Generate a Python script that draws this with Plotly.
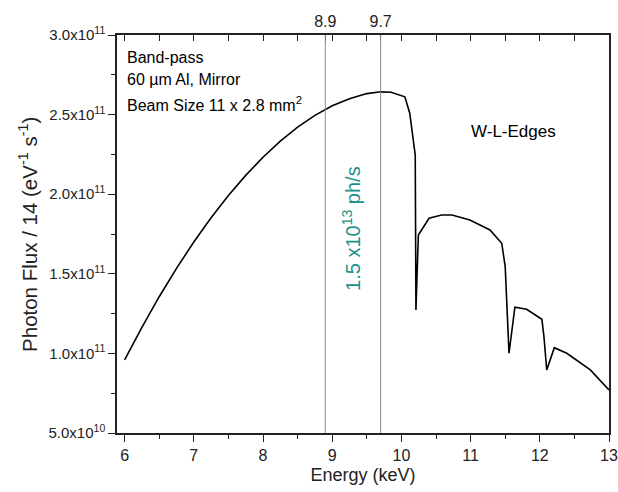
import plotly.graph_objects as go

energy_kev = [6.0, 6.25, 6.5, 6.75, 7.0, 7.25, 7.5, 7.75, 8.0, 8.25, 8.5, 8.75, 9.0, 9.25, 9.5, 9.7,
              9.85, 10.05, 10.12, 10.2, 10.21, 10.245, 10.4, 10.58, 10.73, 10.99, 11.28, 11.45,
              11.5, 11.555, 11.64, 11.81, 12.03, 12.06, 12.10, 12.21, 12.39, 12.73, 13.0]
flux_e11 = [0.96, 1.164, 1.356, 1.534, 1.70, 1.852, 1.992, 2.118, 2.232, 2.333, 2.421, 2.495, 2.555, 2.60, 2.632, 2.643,
            2.64, 2.612, 2.51, 2.246, 1.273, 1.744, 1.849, 1.869, 1.869, 1.838, 1.775, 1.692,
            1.545, 1.001, 1.29, 1.277, 1.214, 1.105, 0.896, 1.036, 1.001, 0.896, 0.77]
flux = [v * 1e11 for v in flux_e11]

band_edges = [8.9, 9.7]
band_labels = ["8.9", "9.7"]

y_tickvals = [0.5e11, 1.0e11, 1.5e11, 2.0e11, 2.5e11, 3.0e11]
y_ticktext = ["5.0x10<sup>10</sup>", "1.0x10<sup>11</sup>", "1.5x10<sup>11</sup>",
              "2.0x10<sup>11</sup>", "2.5x10<sup>11</sup>", "3.0x10<sup>11</sup>"]
x_tickvals = [6, 7, 8, 9, 10, 11, 12, 13]

top_tickvals = [6 + 0.5 * i for i in range(15)] + band_edges
top_ticktext = [""] * 15 + band_labels

FONT = "Liberation Sans, Arial, sans-serif"
AX = "#222222"

fig = go.Figure()
fig.add_trace(go.Scatter(x=energy_kev, y=flux, mode="lines",
                         line=dict(color="black", width=1.6), showlegend=False,
                         hoverinfo="skip"))
# invisible trace to anchor top axis
fig.add_trace(go.Scatter(x=[energy_kev[0]], y=[flux[0]], xaxis="x2", mode="markers",
                         marker=dict(opacity=0), showlegend=False, hoverinfo="skip"))

for e in band_edges:
    fig.add_shape(type="line", xref="x", yref="paper", x0=e, x1=e, y0=0, y1=1,
                  line=dict(color="#8a8a8a", width=1))

xr = [5.89, 13.0]
fig.update_layout(
    width=618, height=492,
    margin=dict(l=117, r=9, t=35, b=59),
    paper_bgcolor="white", plot_bgcolor="white",
    font=dict(family=FONT, size=15, color=AX),
    xaxis=dict(range=xr, tickvals=x_tickvals, ticks="outside", ticklen=7, tickwidth=1.2,
               tickcolor=AX, showline=True, linecolor=AX, linewidth=1.5, mirror=False,
               showgrid=False, zeroline=False, automargin=False, ticklabeloverflow="allow",
               minor=dict(dtick=0.5, tick0=6, ticks="outside", ticklen=4, tickcolor=AX),
               title=dict(text="Energy (keV)", font=dict(size=18), standoff=5),
               tickfont=dict(size=16)),
    xaxis2=dict(range=xr, overlaying="x", side="top", tickmode="array", automargin=False,
                tickvals=top_tickvals, ticktext=top_ticktext, ticks="inside", ticklen=6,
                tickcolor=AX, showline=True, linecolor=AX, linewidth=1.5,
                showgrid=False, zeroline=False, tickfont=dict(size=16)),
    yaxis=dict(range=[0.5e11, 3.0e11], tickmode="array", tickvals=y_tickvals, ticktext=y_ticktext,
               ticks="outside", ticklen=7, tickwidth=1.2, tickcolor=AX, automargin=False,
               showline=True, linecolor=AX, linewidth=1.5, mirror=True,
               showgrid=False, zeroline=False,
               minor=dict(dtick=0.25e11, tick0=0.5e11, ticks="outside", ticklen=4, tickcolor=AX),
               tickfont=dict(size=15)),
)

# y-axis title
fig.add_annotation(x=-0.181, y=0.5, xref="paper", yref="paper", xanchor="center", yanchor="middle",
                   text="Photon Flux / 14 (eV<sup>-1</sup> s<sup>-1</sup>)", textangle=-90,
                   showarrow=False, font=dict(size=20.5, color=AX))

fig.add_annotation(x=0.017, y=0.944, xref="paper", yref="paper", xanchor="left", yanchor="middle",
                   text="Band-pass", showarrow=False, font=dict(size=16, color="black"))
fig.add_annotation(x=0.017, y=0.887, xref="paper", yref="paper", xanchor="left", yanchor="middle",
                   text="60 µm Al, Mirror", showarrow=False, font=dict(size=16, color="black"))
fig.add_annotation(x=0.017, y=0.826, xref="paper", yref="paper", xanchor="left", yanchor="middle",
                   text="Beam Size 11 x 2.8 mm<sup>2</sup>", showarrow=False,
                   font=dict(size=16, color="black"))
fig.add_annotation(x=0.716, y=0.758, xref="paper", yref="paper", xanchor="left", yanchor="middle",
                   text="W-L-Edges", showarrow=False, font=dict(size=17, color="black"))
fig.add_annotation(x=9.27, y=0.515, xref="x", yref="paper", xanchor="center", yanchor="middle",
                   text="1.5 x10<sup>13</sup> ph/s", textangle=-90, showarrow=False,
                   font=dict(size=20, color="#23908b"))

fig.write_html("out.html", config={"displayModeBar": False},
               post_script="document.body.style.margin='0';")
